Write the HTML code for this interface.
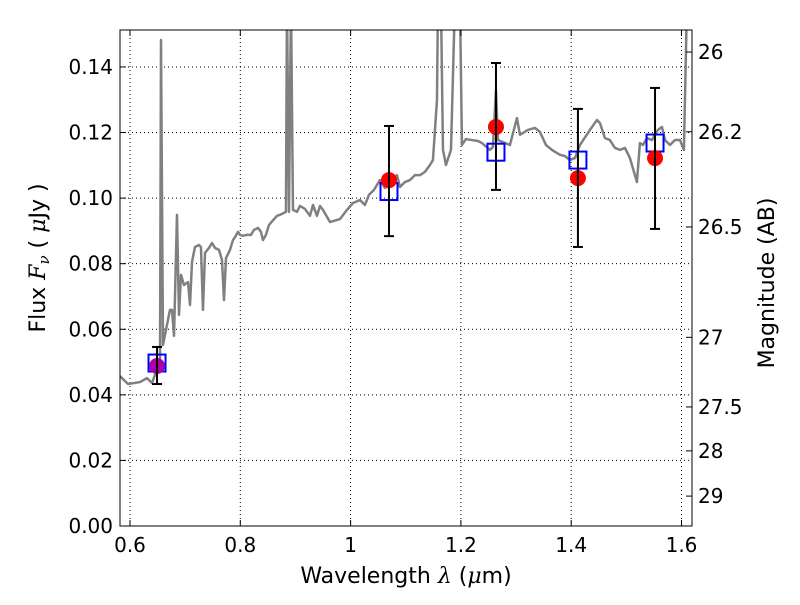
<!DOCTYPE html>
<html><head><meta charset="utf-8"><style>
body{margin:0;background:#fff;font-family:"Liberation Sans","DejaVu Sans",sans-serif}
svg text{font-family:"DejaVu Sans","Liberation Sans",sans-serif}
</style></head><body>
<svg id="c" width="800" height="600" xmlns="http://www.w3.org/2000/svg"></svg>
<script>
const specW=[0.5819,0.5964,0.6181,0.6308,0.6399,0.6453,0.6544,0.6562,0.6598,0.6725,0.6761,0.6798,0.6852,0.6888,0.6925,0.6979,0.7052,0.7088,0.7124,0.7178,0.7251,0.7287,0.7323,0.736,0.7432,0.7487,0.7541,0.7614,0.7668,0.7704,0.7741,0.7813,0.7867,0.7904,0.7958,0.7994,0.8049,0.8121,0.8194,0.8248,0.8321,0.8375,0.8411,0.8465,0.852,0.8665,0.8719,0.8828,0.8846,0.8883,0.8919,0.8955,0.9028,0.9082,0.9173,0.9263,0.9318,0.939,0.9445,0.9499,0.9626,0.9807,0.9934,1.0043,1.017,1.026,1.0333,1.0424,1.0532,1.0623,1.0714,1.0841,1.0895,1.0986,1.1076,1.1167,1.1258,1.1348,1.1439,1.1493,1.1566,1.1584,1.1638,1.1675,1.1729,1.182,1.1892,1.1983,1.2019,1.2092,1.22,1.2309,1.2382,1.2527,1.2581,1.2636,1.2672,1.2889,1.3016,1.3071,1.3216,1.3343,1.3433,1.3542,1.3651,1.3796,1.3887,1.3977,1.4068,1.4159,1.434,1.4467,1.4521,1.4612,1.4702,1.4793,1.4884,1.4975,1.5065,1.5192,1.5246,1.5301,1.5373,1.5464,1.5573,1.5646,1.57,1.5791,1.5881,1.5972,1.6044,1.6099,1.619];
const specF=[0.0457,0.0433,0.0439,0.0451,0.0436,0.0461,0.0488,0.1482,0.0552,0.0659,0.0659,0.058,0.0949,0.0644,0.0766,0.0735,0.0744,0.0674,0.0805,0.0851,0.0857,0.0851,0.0659,0.0833,0.0848,0.0863,0.0848,0.0842,0.0811,0.0689,0.0817,0.0842,0.0872,0.0881,0.0897,0.0888,0.0885,0.0888,0.0888,0.0903,0.0909,0.0897,0.0872,0.0888,0.0918,0.0946,0.0949,0.0958,0.16,0.0958,0.16,0.0964,0.0958,0.0976,0.0967,0.0946,0.0979,0.0946,0.0976,0.0964,0.0927,0.0936,0.0964,0.0985,0.0994,0.0979,0.101,0.1025,0.1055,0.1031,0.1043,0.107,0.1034,0.1049,0.1055,0.107,0.107,0.108,0.1101,0.1116,0.1299,0.16,0.16,0.1147,0.1101,0.1147,0.16,0.16,0.1162,0.118,0.1177,0.1174,0.1168,0.1147,0.1156,0.133,0.1177,0.1162,0.1244,0.1193,0.1208,0.1214,0.1202,0.1162,0.1147,0.1132,0.1128,0.1116,0.1122,0.1162,0.1208,0.1238,0.1229,0.1183,0.1177,0.1153,0.1147,0.1153,0.1122,0.1049,0.1168,0.1162,0.1183,0.1177,0.1208,0.1217,0.1177,0.1162,0.1177,0.1177,0.1147,0.16,0.16];
const bandW=[0.649,1.0696,1.2636,1.4122,1.552];
const obsF=[0.0488,0.1055,0.1217,0.1061,0.1122];
const errLo=[0.0433,0.0884,0.1025,0.0851,0.0906];
const errHi=[0.0546,0.122,0.1412,0.1272,0.1336];
const modelF=[0.0497,0.102,0.114,0.1116,0.1168];
const xTicks=[0.6,0.8,1,1.2,1.4,1.6];
const xTickLabels=["0.6","0.8","1","1.2","1.4","1.6"];
const yTicks=[0,0.02,0.04,0.06,0.08,0.1,0.12,0.14];
const yTickLabels=["0.00","0.02","0.04","0.06","0.08","0.10","0.12","0.14"];
const magTicks=[26,26.2,26.5,27,27.5,28,29];
const magLabels=["26","26.2","26.5","27","27.5","28","29"];

const L=120,R=692,T=30,B=526;
const sx=w=>130+(w-0.6)/0.2*110.3;
const sy=f=>B-f*3279;
const NS="http://www.w3.org/2000/svg";
const svg=document.getElementById('c');
function mk(tag,a,parent){const e=document.createElementNS(NS,tag);for(const k in a)e.setAttribute(k,a[k]);(parent||svg).appendChild(e);return e;}
const defs=mk('defs',{});
const cp=mk('clipPath',{id:'pc'},defs);mk('rect',{x:L,y:T,width:R-L,height:B-T},cp);

xTicks.forEach(t=>{const l=mk('line',{x1:sx(t),x2:sx(t),y1:T,y2:B,stroke:'#000','stroke-width':1,'stroke-dasharray':'1,3'});

});
yTicks.forEach(t=>{const l=mk('line',{x1:L,x2:R,y1:sy(t),y2:sy(t),stroke:'#000','stroke-width':1,'stroke-dasharray':'1,3'});

});

const g=mk('g',{'clip-path':'url(#pc)'});
const p=mk('polyline',{points:specW.map((w,i)=>sx(w)+','+sy(specF[i])).join(' '),fill:'none',stroke:'#808080','stroke-width':2.5,'stroke-linejoin':'round'},g);



bandW.forEach((w,i)=>{const r=mk('rect',{x:sx(w)-8.5,y:sy(modelF[i])-8.5,width:17,height:17,fill:'none',stroke:'#0000ff','stroke-width':2},g);

});
bandW.forEach((w,i)=>{const c=mk('circle',{cx:sx(w),cy:sy(obsF[i]),r:8,fill:i===0?'#aa00aa':'#ff0000'},g);

});
bandW.forEach((w,i)=>{const eg=mk('g',{stroke:'#000','stroke-width':2},g);


const x=sx(w);mk('line',{x1:x,x2:x,y1:sy(errLo[i]),y2:sy(errHi[i])},eg);
mk('line',{x1:x-5,x2:x+5,y1:sy(errLo[i]),y2:sy(errLo[i])},eg);
mk('line',{x1:x-5,x2:x+5,y1:sy(errHi[i]),y2:sy(errHi[i])},eg);});

const fr=mk('rect',{x:L,y:T,width:R-L,height:B-T,fill:'none',stroke:'#000','stroke-width':1});



xTicks.forEach((t,i)=>{const x=sx(t);mk('line',{x1:x,x2:x,y1:B,y2:B-6,stroke:'#000'});mk('line',{x1:x,x2:x,y1:T,y2:T+6,stroke:'#000'});
const tx=mk('text',{x:x,y:552,'font-size':20,'text-anchor':'middle'});tx.textContent=xTickLabels[i];

});
yTicks.forEach((t,i)=>{const y=sy(t);mk('line',{x1:L,x2:L+6,y1:y,y2:y,stroke:'#000'});
const tx=mk('text',{x:113,y:y+7,'font-size':20,'text-anchor':'end'});tx.textContent=yTickLabels[i];

});
magTicks.forEach((m,i)=>{const y=sy(Math.pow(10,(23.9-m)/2.5));mk('line',{x1:R,x2:R-6,y1:y,y2:y,stroke:'#000'});
const tx=mk('text',{x:698,y:y+7,'font-size':20});tx.textContent=magLabels[i];

});
</script>
<svg style="position:absolute;left:0;top:0" width="800" height="600" xmlns="http://www.w3.org/2000/svg">
<text x="406" y="583" font-size="22" text-anchor="middle" font-family="DejaVu Sans,sans-serif">Wavelength  <tspan font-style="italic" font-family="DejaVu Serif,serif">λ</tspan> (<tspan font-style="italic" font-family="DejaVu Serif,serif">μ</tspan>m)</text>
<text transform="translate(45,258) rotate(-90)" font-size="22" text-anchor="middle" font-family="DejaVu Sans,sans-serif">Flux  <tspan font-style="italic" font-family="DejaVu Serif,serif">F</tspan><tspan font-style="italic" font-size="15" dy="4" font-family="DejaVu Serif,serif">ν</tspan><tspan dy="-4">  (  </tspan><tspan font-style="italic" font-family="DejaVu Serif,serif">μ</tspan>Jy )</text>
<text transform="translate(774,283) rotate(-90)" font-size="22" text-anchor="middle" font-family="DejaVu Sans,sans-serif">Magnitude (AB)</text>
</svg>
</body></html>
